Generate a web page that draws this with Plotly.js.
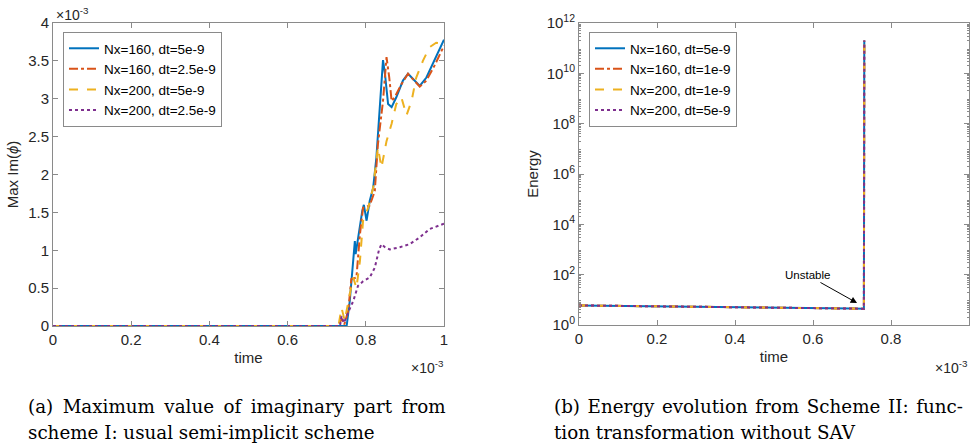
<!DOCTYPE html>
<html><head><meta charset="utf-8">
<script src="https://cdn.plot.ly/plotly-3.0.1.min.js"></script>
<style>body{margin:0;background:#fff}#c{width:972px;height:444px}</style>
</head><body><div id="c"></div>
<script>
// ---- Panel (a): time (x1e-3) vs Max Im(phi) (x1e-3)
const tBlue = [0, 0.2, 0.4, 0.6, 0.73, 0.751, 0.759, 0.768, 0.772, 0.774, 0.783, 0.791, 0.795, 0.802, 0.81, 0.819, 0.827, 0.836, 0.844, 0.849, 0.857, 0.866, 0.878, 0.895, 0.908, 0.921, 0.938, 0.955, 0.976, 1.0];
const yBlue = [0, 0, 0, 0, 0, 0, 0.33, 0.95, 1.12, 0.95, 1.26, 1.52, 1.6, 1.39, 1.65, 1.83, 2.22, 2.84, 3.51, 3.33, 2.93, 2.89, 3.02, 3.24, 3.33, 3.26, 3.17, 3.28, 3.52, 3.78];
const tRed = [0, 0.2, 0.4, 0.6, 0.73, 0.738, 0.745, 0.755, 0.763, 0.776, 0.785, 0.793, 0.81, 0.823, 0.831, 0.844, 0.853, 0.86, 0.866, 0.874, 0.891, 0.908, 0.925, 0.938, 0.955, 0.976, 1.0];
const yRed = [0, 0, 0, 0, 0, 0.1, 0.02, 0.2, 0.62, 0.64, 1.21, 1.56, 1.59, 1.78, 2.4, 2.97, 3.55, 3.28, 2.97, 3.02, 3.19, 3.33, 3.24, 3.16, 3.24, 3.44, 3.7];
const tYellow = [0, 0.2, 0.4, 0.6, 0.73, 0.738, 0.746, 0.759, 0.768, 0.776, 0.785, 0.793, 0.806, 0.819, 0.831, 0.84, 0.853, 0.866, 0.878, 0.891, 0.904, 0.917, 0.929, 0.946, 0.963, 0.98, 0.993, 1.0];
const yYellow = [0, 0, 0, 0, 0, 0.24, 0.07, 0.42, 0.64, 0.5, 0.86, 1.39, 1.56, 1.83, 2.36, 2.09, 2.44, 2.67, 2.93, 3.02, 2.78, 2.97, 3.28, 3.5, 3.68, 3.74, 3.73, 3.7];
const tPurple = [0, 0.2, 0.4, 0.6, 0.734, 0.738, 0.744, 0.755, 0.768, 0.78, 0.793, 0.81, 0.823, 0.834, 0.84, 0.849, 0.861, 0.887, 0.912, 0.938, 0.963, 1.0];
const yPurple = [0, 0, 0, 0, 0, 0.13, 0.04, 0.18, 0.33, 0.53, 0.59, 0.64, 0.77, 1.01, 1.08, 1.04, 1.01, 1.04, 1.08, 1.17, 1.28, 1.35];
const namesA = ['Nx=160, dt=5e-9', 'Nx=160, dt=2.5e-9', 'Nx=200, dt=5e-9', 'Nx=200, dt=2.5e-9'];

// ---- Panel (b): time (x1e-3) vs Energy (log)
const tEnergy = [0, 0.05, 0.1, 0.2, 0.3, 0.4, 0.5, 0.6, 0.7, 0.7305, 0.7315];
const eEnergy = [6.0, 5.9, 5.8, 5.55, 5.3, 5.1, 4.9, 4.7, 4.5, 4.4, 2e11];
const namesB = ['Nx=160, dt=5e-9', 'Nx=160, dt=1e-9', 'Nx=200, dt=1e-9', 'Nx=200, dt=5e-9'];

const xTicks = [0, 0.2, 0.4, 0.6, 0.8, 1];
const xTickText = ['0', '0.2', '0.4', '0.6', '0.8', '1'];
const yTicksA = [0, 0.5, 1, 1.5, 2, 2.5, 3, 3.5, 4];
const yTicksB = [1, 1e2, 1e4, 1e6, 1e8, 1e10, 1e12];
const yTickTextB = ['10<sup>0</sup>', '10<sup>2</sup>', '10<sup>4</sup>', '10<sup>6</sup>', '10<sup>8</sup>', '10<sup>10</sup>', '10<sup>12</sup>'];

// captions (line 1 of each is justified in the original, so spaces are widened)
const capA1 = '(a) Maximum value of imaginary part from';
const capA2 = 'scheme I: usual semi-implicit scheme';
const capB1 = '(b) Energy evolution from Scheme II: func-';
const capB2 = 'tion transformation without SAV';

const colors = ['#0072BD', '#D95319', '#EDB120', '#7E2F8E'];
const dashes = ['solid', 'dashdot', 'dash', 'dot'];

const seriesA = [[tBlue, yBlue], [tRed, yRed], [tYellow, yYellow], [tPurple, yPurple]];
const traces = [];
seriesA.forEach((s, i) => traces.push({
  x: s[0], y: s[1], type: 'scatter', mode: 'lines', name: namesA[i],
  line: {color: colors[i], dash: dashes[i], width: 2}, xaxis: 'x', yaxis: 'y', legend: 'legend'
}));
namesB.forEach((n, i) => traces.push({
  x: tEnergy, y: eEnergy, type: 'scatter', mode: 'lines', name: n,
  line: {color: colors[i], dash: dashes[i], width: 2}, xaxis: 'x2', yaxis: 'y2', legend: 'legend2'
}));

const minorB = [];
for (let k = 0; k < 12; k++) for (let m = 2; m <= 9; m++) minorB.push(m * Math.pow(10, k));

const justify = (s, extra) => s.split(' ').join(' ' + extra);

const W = 972, H = 444;
const px = v => v / W, py = v => (H - v) / H;
const axisCol = '#8a8a8a';
const sans = 'Liberation Sans, Arial, sans-serif';
const serif = 'DejaVu Serif, Liberation Serif, serif';
const tickFont = {family: sans, size: 15, color: '#262626'};
const baseAx = {
  showgrid: false, zeroline: false, showline: true, linecolor: axisCol, linewidth: 1,
  mirror: 'ticks', ticks: 'inside', ticklen: 5, tickcolor: axisCol, tickfont: tickFont
};
const titleFont = {family: sans, size: 15, color: '#262626'};
const legFont = {family: sans, size: 13.5, color: '#000'};
const capFont = {family: serif, size: 18.3, color: '#000'};

const layout = {
  width: W, height: H, margin: {l: 0, r: 0, t: 0, b: 0},
  paper_bgcolor: '#fff', plot_bgcolor: '#fff', showlegend: true,
  xaxis: Object.assign({}, baseAx, {domain: [px(53), px(444)], range: [0, 1], tickvals: xTicks, ticktext: xTickText,
    anchor: 'y', title: {text: 'time', font: titleFont, standoff: 5}}),
  yaxis: Object.assign({}, baseAx, {domain: [py(326), py(23)], range: [0, 4], tickvals: yTicksA, ticktext: yTicksA.map(String),
    anchor: 'x', title: {text: 'Max Im(<i>ϕ</i>)', font: titleFont, standoff: 5}}),
  xaxis2: Object.assign({}, baseAx, {domain: [px(579), px(969)], range: [0, 1], tickvals: xTicks, ticktext: xTickText,
    anchor: 'y2', title: {text: 'time', font: titleFont, standoff: 5}}),
  yaxis2: Object.assign({}, baseAx, {domain: [py(325), py(23)], type: 'log', range: [0, 12], tickvals: yTicksB, ticktext: yTickTextB,
    anchor: 'x2', title: {text: 'Energy', font: titleFont, standoff: 4},
    minor: {tickmode: 'array', tickvals: minorB, ticks: 'inside', ticklen: 2, tickcolor: axisCol}}),
  legend: {x: px(63), y: py(32), xanchor: 'left', yanchor: 'top', bgcolor: '#fff', bordercolor: axisCol, borderwidth: 1,
    font: legFont, tracegroupgap: 0},
  legend2: {x: px(589), y: py(32), xanchor: 'left', yanchor: 'top', bgcolor: '#fff', bordercolor: axisCol, borderwidth: 1,
    font: legFont, tracegroupgap: 0},
  annotations: [
    {xref: 'paper', yref: 'paper', x: px(54), y: py(14), xanchor: 'left', yanchor: 'middle', showarrow: false,
      text: '×10<sup>-3</sup>', font: {family: sans, size: 14, color: '#262626'}},
    {xref: 'paper', yref: 'paper', x: px(446), y: py(367), xanchor: 'right', yanchor: 'middle', showarrow: false,
      text: '×10<sup>-3</sup>', font: {family: sans, size: 14, color: '#262626'}},
    {xref: 'paper', yref: 'paper', x: px(970), y: py(367), xanchor: 'right', yanchor: 'middle', showarrow: false,
      text: '×10<sup>-3</sup>', font: {family: sans, size: 14, color: '#262626'}},
    {xref: 'x2', yref: 'y2', x: 0.713, y: Math.log10(7.5), ax: -50, ay: -28, axref: 'pixel', ayref: 'pixel',
      text: 'Unstable', showarrow: true, arrowhead: 2, arrowsize: 1.3, arrowwidth: 1, arrowcolor: '#000',
      font: {family: sans, size: 11.5, color: '#000'}},
    {xref: 'paper', yref: 'paper', x: px(26), y: py(406), xanchor: 'left', yanchor: 'middle', showarrow: false,
      text: justify(capA1, '\u2009'), font: capFont},
    {xref: 'paper', yref: 'paper', x: px(26), y: py(432), xanchor: 'left', yanchor: 'middle', showarrow: false,
      text: capA2, font: capFont},
    {xref: 'paper', yref: 'paper', x: px(552), y: py(406), xanchor: 'left', yanchor: 'middle', showarrow: false,
      text: justify(capB1, '\u200A'), font: capFont},
    {xref: 'paper', yref: 'paper', x: px(552), y: py(432), xanchor: 'left', yanchor: 'middle', showarrow: false,
      text: capB2, font: capFont}
  ]
};
Plotly.newPlot('c', traces, layout, {displayModeBar: false, staticPlot: true});
</script></body></html>
